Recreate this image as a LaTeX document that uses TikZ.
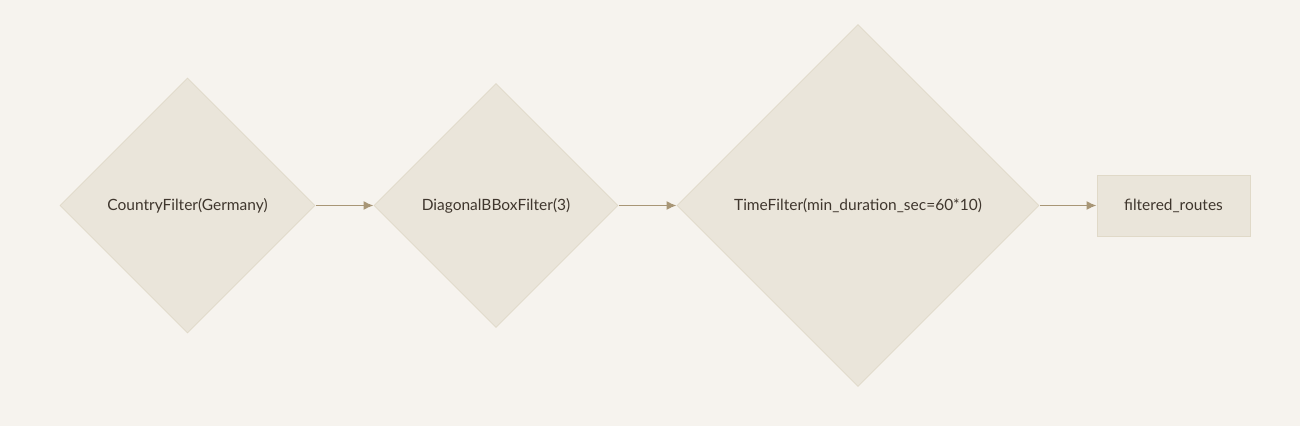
\documentclass[tikz,border=0pt]{standalone}
\usepackage{fontspec}
\setmainfont{Lato}
\usetikzlibrary{shapes.geometric,arrows.meta}
\definecolor{bg}{HTML}{F6F3EE}
\definecolor{boxfill}{HTML}{EAE5DA}
\definecolor{boxline}{HTML}{E0D9C8}
\definecolor{arr}{HTML}{A89676}
\definecolor{txt}{HTML}{3F362D}
\tikzset{
  dia/.style={diamond, aspect=1, draw=boxline, fill=boxfill, line width=0.8pt, inner sep=0pt, text=txt, font=\fontsize{15.5}{18}\selectfont},
  rbox/.style={rectangle, draw=boxline, fill=boxfill, line width=0.8pt, text=txt, font=\fontsize{15.5}{18}\selectfont, minimum width=153pt, minimum height=61pt},
  conn/.style={draw=arr, line width=1.7pt, -{Latex[length=10pt,width=9pt]}}
}
\begin{document}
\begin{tikzpicture}[x=1pt,y=-1pt]
\fill[bg] (0,0) rectangle (1300,426);
\useasboundingbox (0,0) rectangle (1300,426);
\node[dia, minimum width=255pt, minimum height=255pt] (a) at (187.5,205.5) {CountryFilter(Germany)};
\node[dia, minimum width=244pt, minimum height=244pt] (b) at (496,205.5) {DiagonalBBoxFilter(3)};
\node[dia, minimum width=362pt, minimum height=362pt] (c) at (858,205.5) {TimeFilter(min\_duration\_sec=60*10)};
\node[rbox] (d) at (1173.5,205.5) {filtered\_routes};
\draw[conn] (a.east) ++(1,0) -- (b.west);
\draw[conn] (b.east) ++(1,0) -- (c.west);
\draw[conn] (c.east) ++(1,0) -- (d.west);
\end{tikzpicture}
\end{document}
